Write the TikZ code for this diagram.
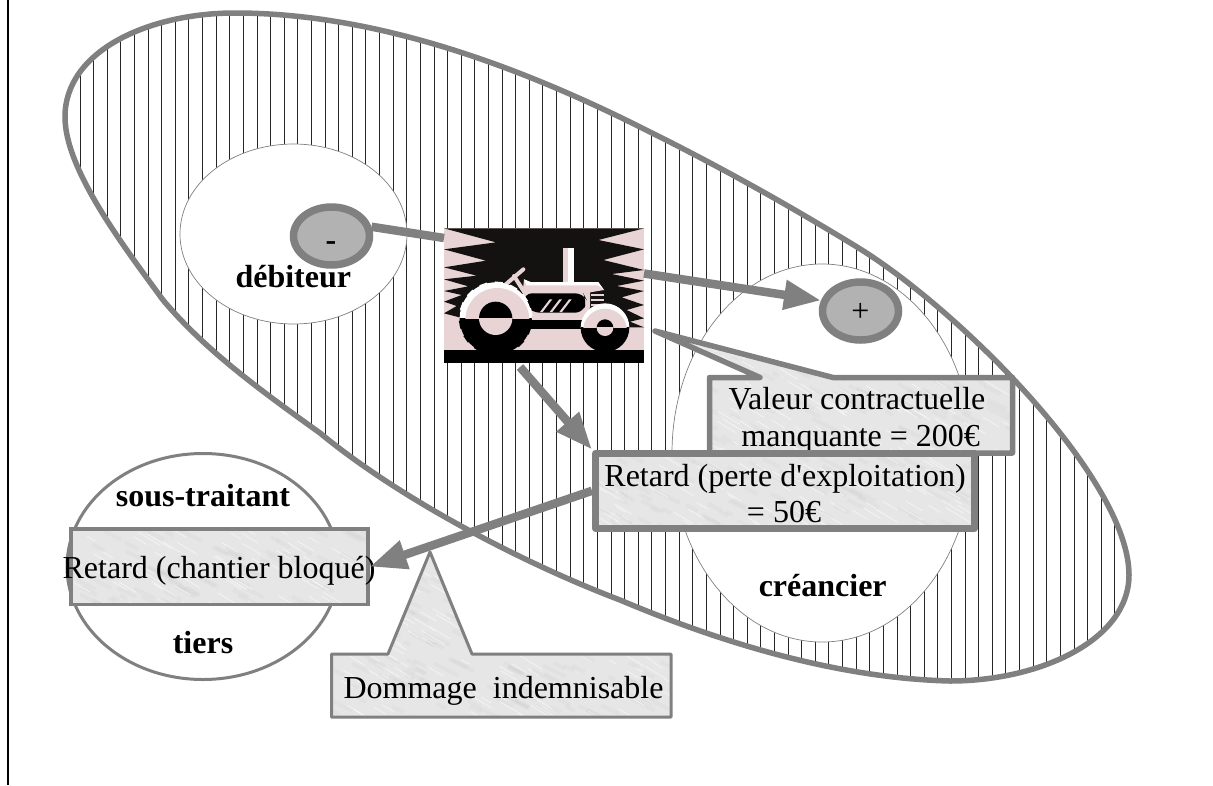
\documentclass[tikz,border=0pt]{standalone}
\usepackage{fontspec}
\setmainfont{Liberation Serif}
\usetikzlibrary{arrows.meta,shapes.geometric}
\definecolor{edgegrey}{HTML}{808080}
\definecolor{discgrey}{HTML}{B2B2B2}
\definecolor{marblegrey}{HTML}{E6E6E6}
\definecolor{tractorpink}{HTML}{E8D4D4}
\definecolor{tractorblack}{HTML}{141210}
\newcommand{\txtsize}{\fontsize{32}{37}\selectfont}
\newcommand{\blobpath}{(65,117) .. controls (65,50) and (150,13) .. (235,13) .. controls (370,13) and (510,62) .. (640,127) .. controls (715,164) and (785,203) .. (857,247) .. controls (960,310) and (1129,480) .. (1129,575) .. controls (1129,640) and (1040,681) .. (950,681) .. controls (830,678) and (710,638) .. (620,600) .. controls (515,560) and (395,495) .. (320,433) .. controls (260,390) and (205,350) .. (163,300) .. controls (125,248) and (65,170) .. (65,117) -- cycle}
\newcommand{\marble}[4]{%
  \fill[marblegrey] (#1,#2) rectangle (#3,#4);
  \pgfmathsetmacro{\mcount}{int(abs(#3-#1)/320*abs(#4-#2))}
  \foreach \i in {1,...,\mcount}{%
    \pgfmathsetmacro{\mx}{#1+rnd*(#3-#1)}
    \pgfmathsetmacro{\my}{#2+rnd*(#4-#2)}
    \pgfmathsetmacro{\ml}{6+rnd*20}
    \draw[white,opacity=.5,line width=.9pt] (\mx,\my) -- ++(\ml,.6*\ml);
    \pgfmathsetmacro{\mxb}{#1+rnd*(#3-#1)}
    \pgfmathsetmacro{\myb}{#2+rnd*(#4-#2)}
    \draw[black,opacity=.02,line width=4pt] (\mxb,\myb) -- ++(\ml,.5*\ml);
  }}
\newcommand{\halfdisc}[5]{%
  \begin{scope}\clip (#1-#3,#2-#3) rectangle (#1+#3,#2);\fill[#4] (#1,#2) circle[radius=#3];\end{scope}
  \begin{scope}\clip (#1-#3,#2) rectangle (#1+#3,#2+#3);\fill[#5] (#1,#2) circle[radius=#3];\end{scope}}
\tikzset{
  thinellipse/.style={ellipse,draw=edgegrey,fill=white,line width=.7pt,inner sep=0pt},
  disc/.style={ellipse,draw=edgegrey,fill=discgrey,line width=7.5pt,minimum width=76pt,minimum height=58pt,inner sep=0pt,font=\txtsize},
  txtlabel/.style={font=\txtsize,inner sep=0pt,anchor=base},
  boldlabel/.style={font=\txtsize\bfseries,inner sep=0pt,anchor=base},
  thickline/.style={draw=edgegrey,line width=8.5pt},
  arrowline/.style={draw=edgegrey,line width=8.5pt,-{Triangle[length=37pt,width=28pt]}},
  boxedge/.style={draw=edgegrey,line join=round},
}
\begin{document}
\begin{tikzpicture}[x=1pt,y=-1pt]
\useasboundingbox (0,0) rectangle (1213,785);
\fill[white] (0,0) rectangle (1213,785);
\draw[black,line width=2.2pt] (8,0) -- (8,785);
% hatched blob
\begin{scope}
  \clip \blobpath;
  \foreach \k in {0,...,80}{\draw[black!85,line width=1pt] ({80+13.617*\k},0) -- ({80+13.617*\k},785);}
\end{scope}
\draw[edgegrey,line width=5.5pt] \blobpath;
\node[thinellipse,minimum width=227pt,minimum height=180pt] (debiteur) at (293.5,234) {};
\node[thinellipse,minimum width=300pt,minimum height=378pt] (creancier) at (822,453) {};
\node[boldlabel] (debtxt) at (293.3,287) {débiteur};
\node[boldlabel] (cretxt) at (822.7,596) {créancier};
% tractor
\node[draw=none,fill=tractorpink,minimum width=200pt,minimum height=135pt,inner sep=0pt,outer sep=0pt] (tractor) at (544,295.5) {};
\begin{scope}[shift={(420,210)},x=.33333pt,y=-.33333pt]
  \fill[tractorblack] (72,55) -- (672,55) -- (535,90) -- (672,118) -- (550,150) -- (672,180) -- (575,192) -- (672,212) -- (590,228) -- (672,243) -- (605,262) -- (672,285) -- (620,300) -- (672,325) -- (630,335) -- (672,352) -- (560,352) -- (118,322) -- (72,310) -- (110,288) -- (72,275) -- (125,255) -- (72,243) -- (145,229) -- (72,208) -- (170,197) -- (72,172) -- (198,152) -- (72,118) -- (228,97) -- cycle;
  \fill[black] (72,420) rectangle (672,460);
  % exhaust
  \fill[tractorpink] (428,113) rectangle (444,215);
  \fill[white] (444,113) rectangle (462,215);
  % steering
  \draw[tractorpink,line width=4pt,line cap=round] (255,225) -- (310,178);
  \draw[tractorpink,line width=4pt,line cap=round] (282,198) -- (312,245);
  % body
  \fill[tractorpink] (312,208) -- (332,218) -- (535,218) -- (552,240) -- (510,247) -- (510,292) -- (500,325) -- (300,325) -- cycle;
  \fill[white] (312,208) -- (332,216) -- (535,216) -- (552,240) -- (535,226) -- (320,226) -- cycle;
  \fill[black,rounded corners=8pt] (312,250) -- (490,250) -- (500,270) -- (490,308) -- (335,308) -- (312,280) -- cycle;
  \foreach \sx in {0,29,58}{\fill[tractorpink] ({360+\sx},306) -- ({368+\sx},306) -- ({397+\sx},268) -- ({389+\sx},268) -- cycle;}
  \fill[tractorpink] (512,252) rectangle (552,258);
  \fill[tractorpink] (512,268) rectangle (552,274);
  \fill[tractorpink] (512,281) rectangle (552,287);
  % under-frame
  \fill[black] (300,328) rectangle (500,358);
  \fill[tractorpink] (335,324) rectangle (490,330);
  % big wheel
  \foreach \a in {10,35,...,170}{\fill[white,rotate around={\a:(227,325)}] (322,313) rectangle (337,337);}
  \foreach \a in {190,215,...,350}{\fill[black,rotate around={\a:(227,325)}] (322,313) rectangle (337,337);}
  \halfdisc{227}{325}{108}{white}{black}
  \begin{scope}\clip (100,200) rectangle (350,325);\fill[tractorpink] (232,330) circle[radius=96];\end{scope}
  \halfdisc{227}{325}{50}{black}{tractorpink}
  % small wheel
  \halfdisc{555}{353}{73}{white}{black}
  \begin{scope}\clip (470,270) rectangle (640,353);\fill[tractorpink] (555,362) circle[radius=66];\end{scope}
  \halfdisc{555}{353}{25}{black}{tractorpink}
\end{scope}
% discs
\node[disc] (minus) at (331.5,236) {};
\node[font=\txtsize\bfseries,inner sep=0pt,anchor=base] (minustxt) at (331,250) {-};
\node[disc] (plus) at (860.5,311) {};
\node[font=\txtsize,inner sep=0pt] (plustxt) at (860.5,312.5) {+};
\draw[thickline] (minus.13) -- ([yshift=57.5pt]tractor.west);
\draw[arrowline] ([yshift=22pt]tractor.east) -- (plus.165);
% valeur callout
\begin{scope}
  \clip (709.5,377.5) -- (760,377.5) -- (655,331) -- (833,377.5) -- (1012.5,377.5) -- (1012.5,453) -- (709.5,453) -- cycle;
  \pgfmathsetseed{11}
  \marble{650}{325}{1015}{456}
\end{scope}
\draw[boxedge,line width=5.5pt] (709.5,377.5) -- (760,377.5) -- (655,331) -- (833,377.5) -- (1012.5,377.5) -- (1012.5,453) -- (709.5,453) -- cycle;
\node[txtlabel] (valeurA) at (857,409) {Valeur contractuelle};
\node[txtlabel] (valeurB) at (860.7,446) {manquante = 200€};
% retard box
\begin{scope}
  \clip (595.7,453.3) rectangle (974.3,528.3);
  \pgfmathsetseed{23}
  \marble{595}{453}{975}{529}
\end{scope}
\node[draw=edgegrey,line width=7.5pt,minimum width=378.6pt,minimum height=75pt,inner sep=0pt,line join=round] (retard) at (785,490.8) {};
\node[txtlabel] (retardtxt) at (785,486) {Retard (perte d\textquotesingle exploitation)};
\node[txtlabel] (cinquante) at (784,522) {= 50€};
\draw[arrowline] ([xshift=-24pt,yshift=-4pt]tractor.south) -- (retard.north west);
% sous-traitant
\node[ellipse,draw=edgegrey,fill=white,line width=3pt,minimum width=272pt,minimum height=226pt,inner sep=0pt] (tiers) at (203,566.5) {};
\node[boldlabel] (soustxt) at (203,506) {sous-traitant};
\node[boldlabel] (tierstxt) at (203,653) {tiers};
\begin{scope}
  \clip (71,529) rectangle (368,604.5);
  \pgfmathsetseed{37}
  \marble{70}{528}{369}{605}
\end{scope}
\node[draw=edgegrey,line width=3.5pt,minimum width=297pt,minimum height=75.5pt,inner sep=0pt] (chantier) at (219.5,566.7) {};
\node[txtlabel] (chantiertxt) at (219,578) {Retard (chantier bloqué)};
\draw[arrowline] (retard.west) -- (chantier.east);
% dommage callout
\begin{scope}
  \clip (331.5,654) -- (388,654) -- (430,552) -- (472,654) -- (671,654) -- (671,717) -- (331.5,717) -- cycle;
  \pgfmathsetseed{51}
  \marble{330}{550}{672}{718}
\end{scope}
\draw[boxedge,line width=3pt] (331.5,654) -- (388,654) -- (430,552) -- (472,654) -- (671,654) -- (671,717) -- (331.5,717) -- cycle;
\node[txtlabel] (dommage) at (503.5,698) {Dommage\ \ indemnisable};
\end{tikzpicture}
\end{document}
